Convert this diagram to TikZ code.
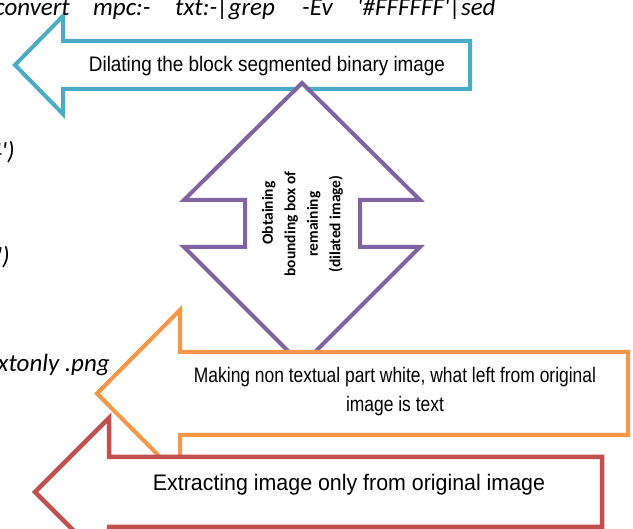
\documentclass[tikz,border=0pt]{standalone}
\usepackage{fontspec}
\setmainfont{Liberation Sans}
\newfontfamily\carl{Carlito}
\newfontfamily\narrowA[FakeStretch=0.90]{Liberation Sans}
\newfontfamily\narrowB[FakeStretch=0.83]{Liberation Sans}
\newfontfamily\narrowC[FakeStretch=0.95]{Liberation Sans}
\definecolor{acyan}{HTML}{4BACC6}
\definecolor{apurple}{HTML}{8064A2}
\definecolor{aorange}{HTML}{F79646}
\definecolor{ared}{HTML}{C0504D}
\tikzset{
  blockarrow/.style={line width=4pt, fill=white, line join=miter},
  cmd/.style={font=\carl\itshape\fontsize{25}{30}\selectfont, inner sep=0pt, anchor=base west},
  lbl/.style={inner sep=0pt, anchor=base, text=black}
}
\begin{document}
\begin{tikzpicture}[x=1pt,y=-1pt]
\useasboundingbox (0,0) rectangle (633,529);
\clip (0,0) rectangle (633,529);

% cyan arrow
\draw[blockarrow, draw=acyan] (470,41) -- (63,41) -- (63,16) -- (15,65) -- (63,114) -- (63,89) -- (470,89) -- cycle;
\node[lbl, font=\narrowA\fontsize{21}{25}\selectfont] (ctext) at (267,72) {Dilating the block segmented binary image};

% purple double arrow
\draw[blockarrow, draw=apurple] (302,83) -- (420,200) -- (360,200) -- (360,247) -- (420,247) -- (302,365)
  -- (184,247) -- (245,247) -- (245,200) -- (184,200) -- cycle;
\node[rotate=90, align=center, inner sep=0pt, font=\carl\bfseries\fontsize{15.5}{22.5}\selectfont] (ptext) at (302.5,224)
  {\hspace*{22pt}Obtaining\\bounding box of\\remaining\\(dilated image)};

% orange arrow
\draw[blockarrow, draw=aorange] (628,352) -- (180,352) -- (180,310) -- (97,393.5) -- (180,477) -- (180,435) -- (628,435) -- cycle;
\node[lbl, font=\narrowB\fontsize{21}{29}\selectfont] (otext1) at (395,383) {Making non textual part white, what left from original};
\node[lbl, font=\narrowB\fontsize{21}{29}\selectfont] (otext2) at (395,412) {image is text};

% red arrow
\draw[blockarrow, draw=ared, line width=4.5pt] (602,457) -- (109,457) -- (109,418) -- (35,492) -- (109,566) -- (109,527) -- (602,527) -- cycle;
\node[lbl, font=\narrowC\fontsize{22.5}{27}\selectfont] (rtext) at (349,491) {Extracting image only from original image};

% command fragments
\node[cmd, anchor=base east] (w1) at (70,16) {convert};
\node[cmd] (w2) at (93,16) {mpc:-};
\node[cmd] (w3) at (175,16) {txt:-|grep};
\node[cmd] (w4) at (302,16) {-Ev};
\node[cmd] (w5) at (357,16) {'\#FFFFFF'|sed};
\node[cmd, anchor=base east] (f1) at (15,160) {4')};
\node[cmd, anchor=base east] (f2) at (10,265) {')};
\node[cmd, anchor=base east] (f3) at (110,372) {xtonly .png};
\end{tikzpicture}
\end{document}
